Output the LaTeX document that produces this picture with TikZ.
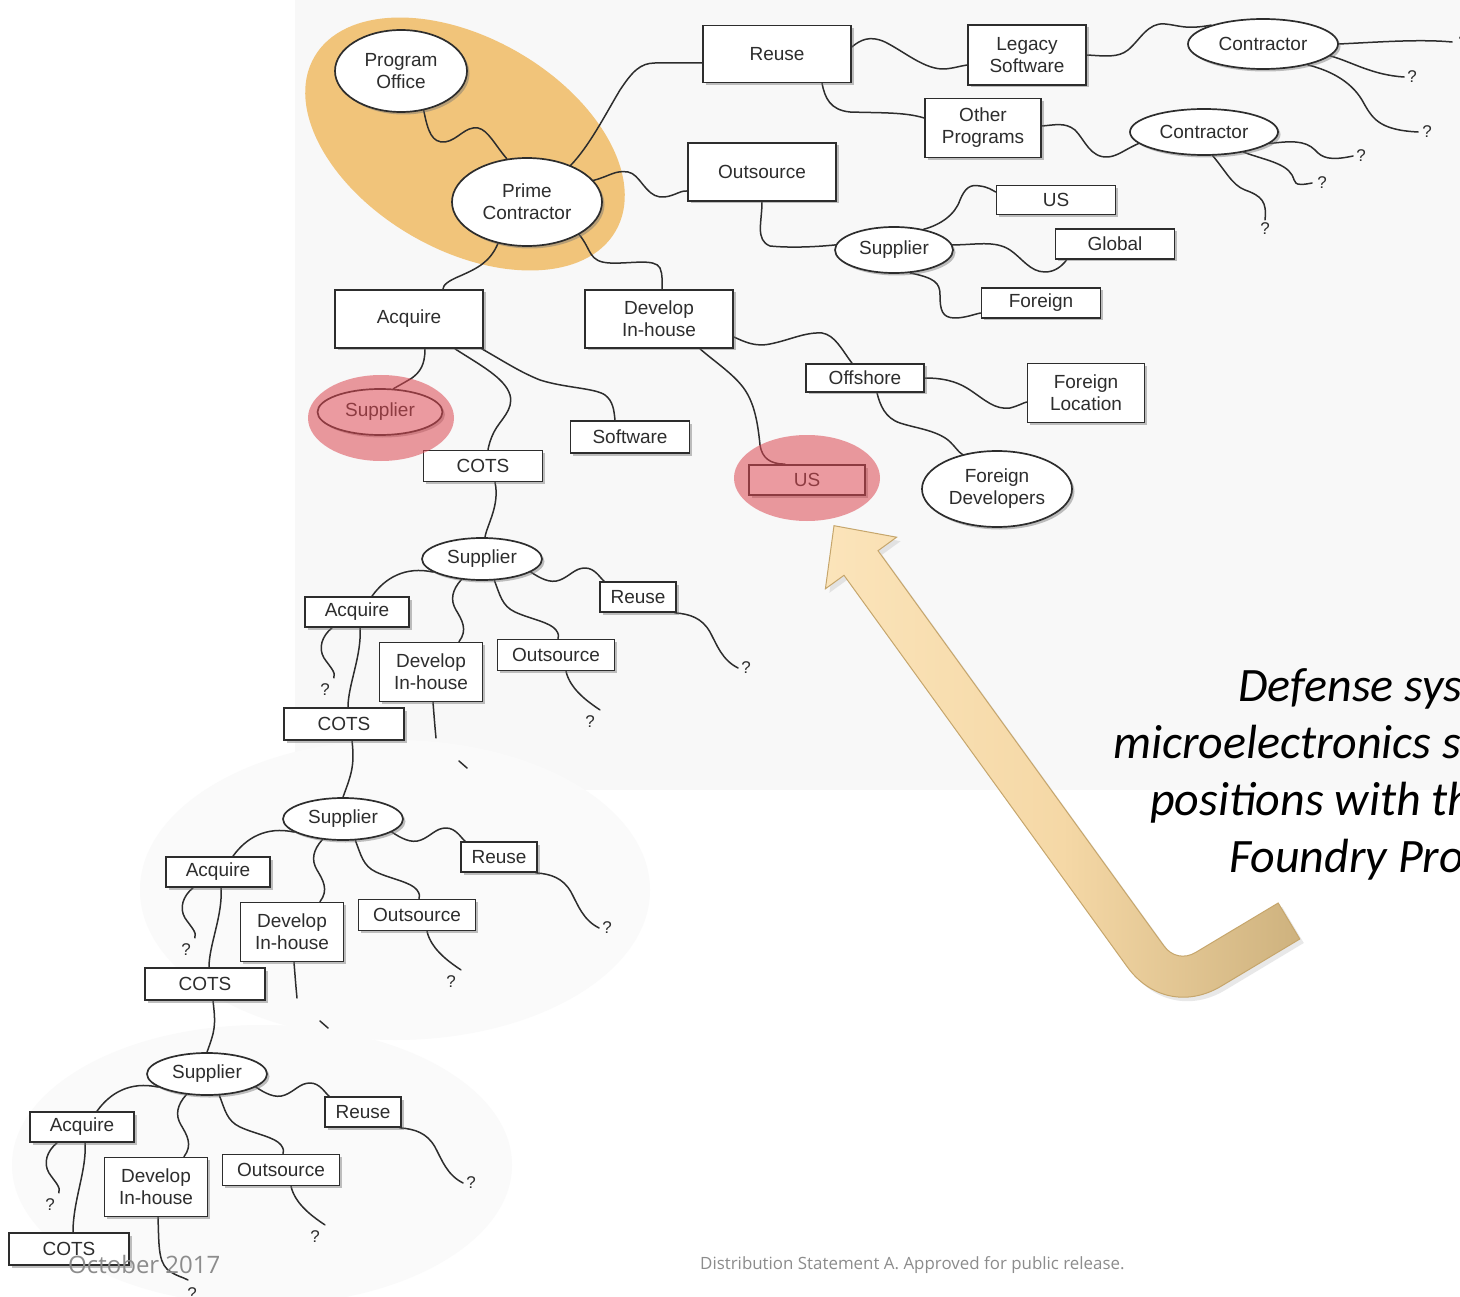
\documentclass[tikz,border=0pt]{standalone}
\usepackage{fontspec}
\usetikzlibrary{shapes.geometric,shadows}
\newfontfamily\diagfont{Liberation Sans}
\newfontfamily\notefont{Carlito}
\newfontfamily\footfont{Open Sans}

\definecolor{ink}{RGB}{45,45,45}
\definecolor{backdrop}{RGB}{248,248,248}
\definecolor{backdroplow}{RGB}{250,250,250}
\definecolor{hilite}{RGB}{241,196,122}
\definecolor{redmark}{RGB}{220,72,82}
\definecolor{arrowlight}{RGB}{251,228,186}
\definecolor{arrowmid}{RGB}{245,216,166}
\definecolor{arrowdark}{RGB}{206,178,126}
\definecolor{arrowedge}{RGB}{198,166,108}
\definecolor{footgray}{RGB}{140,140,140}

\pgfdeclarelayer{bg}\pgfdeclarelayer{hl}\pgfdeclarelayer{lines}\pgfdeclarelayer{front}
\pgfsetlayers{bg,hl,lines,main,front}

\tikzset{
  shadowed/.style={drop shadow={shadow xshift=2.5pt, shadow yshift=-2.5pt, fill=black!55, opacity=0.45}},
  box/.style={rectangle, draw=ink, line width=1.7pt, fill=white, inner sep=0pt,
    font=\diagfont\fontsize{19}{22}\selectfont, text=ink, align=center, shadowed},
  ell/.style={ellipse, draw=ink, line width=1.7pt, fill=white, inner sep=0pt,
    font=\diagfont\fontsize{19}{22}\selectfont, text=ink, align=center, shadowed},
  conn/.style={draw=ink, line width=1.5pt, line cap=round, line join=round},
  qm/.style={font=\diagfont\fontsize{17}{20}\selectfont, text=ink, inner sep=0pt},
  redspot/.style={ellipse, fill=redmark, fill opacity=0.55, draw=none, inner sep=0pt},
  note/.style={font=\notefont\itshape\fontsize{48}{57}\selectfont, text=black, inner sep=0pt, anchor=base west},
  foot/.style={text=footgray, inner sep=0pt, anchor=base west},
}

% One "Supplier" sub-tree: #1 name prefix, #2/#3 shift, #4 extra drop of the COTS box,
% #5 = 1 when the Develop branch is drawn in full
\newcommand{\suppliertree}[5]{%
\begin{scope}[shift={(#2,#3)}]
  \node[ell, minimum width=120, minimum height=42] (#1s) at (482,559) {Supplier};
  \node[box, minimum width=104, minimum height=30] (#1a) at (357,612) {Acquire};
  \node[box, minimum width=103, minimum height=59] (#1d) at (431,672) {Develop\\In-house};
  \node[box, minimum width=117, minimum height=31] (#1o) at (556,655) {Outsource};
  \node[box, minimum width=76, minimum height=30] (#1r) at (638,597) {Reuse};
  \node[box, minimum width=120, minimum height=32] (#1c) at (344,724+#4) {COTS};
  \node[qm] (#1qa) at (325,690) {?};
  \node[qm] (#1qo) at (590,722) {?};
  \node[qm] (#1qr) at (746,668) {?};
  \begin{pgfonlayer}{lines}
    \draw[conn] (#1s.195) .. controls (405,566) and (385,578) .. ([xshift=15pt]#1a.north);
    \draw[conn] (#1s.225) .. controls (452,590) and (450,600) .. (456,610)
                .. controls (462,620) and (468,630) .. ([xshift=28pt]#1d.north);
    \draw[conn] (#1s.300) .. controls (500,595) and (502,606) .. (515,612)
                .. controls (530,619) and (550,622) .. (556,630)
                .. controls (559,634) and (559,637) .. ([xshift=2pt]#1o.north);
    \draw[conn] (#1s.345) .. controls (540,578) and (550,584) .. (560,580)
                .. controls (570,576) and (575,568) .. (585,568)
                .. controls (595,568) and (600,578) .. ([xshift=5pt]#1r.north west);
    \draw[conn] ([xshift=-2pt]#1r.south east) .. controls (690,614) and (702,618) .. (710,632)
                .. controls (717,645) and (722,660) .. ([xshift=-3pt]#1qr.west);
    \draw[conn] ([xshift=-25pt]#1a.south) .. controls (322,636) and (318,648) .. (324,658)
                .. controls (330,667) and (336,672) .. ([xshift=4pt,yshift=6pt]#1qa.north east);
    \draw[conn] ([xshift=3pt]#1a.south) .. controls (362,655) and (348,685) .. ([xshift=4pt]#1c.north);
    \draw[conn] ([xshift=10pt]#1o.south) .. controls (570,688) and (585,700) .. ([xshift=5pt,yshift=6pt]#1qo.north east);
    \ifnum#5=1
      \draw[conn] ([xshift=2pt]#1d.south) .. controls (434,728) and (433,745) .. (442,754)
                  .. controls (450,761) and (458,762) .. (463,765);
    \else
      \draw[conn] ([xshift=2pt]#1d.south) .. controls (434,715) and (435,728) .. (436,738);
      \draw[conn] (459,761) -- (467,768);
    \fi
  \end{pgfonlayer}
  \ifnum#5=1
    \node[qm] (#1qd) at (467,779) {?};
  \fi
\end{scope}}

\begin{document}
\begin{tikzpicture}[x=1pt,y=-1pt]
\useasboundingbox (0,0) rectangle (1460,1297);
\clip (0,0) rectangle (1460,1297);

% paper and the faint grey panels behind the trees
\begin{pgfonlayer}{bg}
  \fill[white] (0,0) rectangle (1460,1297);
  \fill[backdrop] (295,0) rectangle (1460,790);
  \fill[backdroplow] (395,890) ellipse [x radius=255, y radius=150];
  \fill[backdroplow] (262,1165) ellipse [x radius=250, y radius=140];
\end{pgfonlayer}

% orange zone around the programme office
\begin{pgfonlayer}{hl}
  \node[ellipse, fill=hilite, draw=none, minimum width=348, minimum height=212, rotate=-30, inner sep=0pt] (zone) at (465,144) {};
\end{pgfonlayer}

% ---------- upper tree ----------
\node[ell, minimum width=132, minimum height=82] (po) at (401,71) {Program\\Office};
\node[ell, minimum width=150, minimum height=88] (pc) at (527,202) {Prime\\Contractor};
\node[box, minimum width=148, minimum height=57] (reuse) at (777,54) {Reuse};
\node[box, minimum width=118, minimum height=60] (legacy) at (1027,55) {Legacy\\Software};
\node[ell, minimum width=150, minimum height=50] (ctra) at (1263,44) {Contractor};
\node[box, minimum width=116, minimum height=59] (other) at (983,128) {Other\\Programs};
\node[ell, minimum width=148, minimum height=46] (ctrb) at (1204,132) {Contractor};
\node[box, minimum width=148, minimum height=58] (outs) at (762,172) {Outsource};
\node[ell, minimum width=118, minimum height=46] (supo) at (894,250) {Supplier};
\node[box, minimum width=119, minimum height=29] (usa) at (1056,200) {US};
\node[box, minimum width=119, minimum height=30] (global) at (1115,244) {Global};
\node[box, minimum width=119, minimum height=30] (foreign) at (1041,303) {Foreign};
\node[box, minimum width=148, minimum height=58] (acq) at (409,319) {Acquire};
\node[box, minimum width=148, minimum height=58] (dev) at (659,319) {Develop\\In-house};
\node[ell, minimum width=125, minimum height=46] (supa) at (380,412) {Supplier};
\node[box, minimum width=119, minimum height=31] (cots) at (483,466) {COTS};
\node[box, minimum width=119, minimum height=32] (soft) at (630,437) {Software};
\node[box, minimum width=116, minimum height=30] (usd) at (807,480) {US};
\node[box, minimum width=118, minimum height=28] (offs) at (865,378) {Offshore};
\node[box, minimum width=117, minimum height=59] (floc) at (1086,393) {Foreign\\Location};
\node[ell, minimum width=150, minimum height=76] (fdev) at (997,489) {Foreign\\Developers};

\node[qm] (qa1) at (1463,42) {?};
\node[qm] (qa2) at (1412,77) {?};
\node[qm] (qa3) at (1427,132) {?};
\node[qm] (qb1) at (1361,156) {?};
\node[qm] (qb2) at (1322,183) {?};
\node[qm] (qb3) at (1265,229) {?};

\begin{pgfonlayer}{lines}
  \draw[conn] (po.300) .. controls (428,132) and (432,143) .. (445,142)
              .. controls (458,140) and (465,126) .. (478,128)
              .. controls (488,130) and (495,145) .. (pc.115);
  \draw[conn] (pc.40) .. controls (590,145) and (605,115) .. (620,90)
              .. controls (632,72) and (640,63) .. (655,63) -- ([yshift=-9pt]reuse.west);
  \draw[conn] (pc.18) .. controls (610,176) and (615,170) .. (628,172)
              .. controls (640,174) and (645,195) .. (660,197)
              .. controls (672,198) and (680,190) .. ([yshift=-19pt]outs.west);
  \draw[conn] (pc.235) .. controls (490,262) and (478,268) .. (460,276)
              .. controls (448,281) and (443,285) .. ([xshift=34pt]acq.north);
  \draw[conn] (pc.328) .. controls (592,250) and (588,262) .. (610,263)
              .. controls (630,264) and (655,258) .. (660,268)
              .. controls (663,275) and (662,283) .. ([xshift=3pt]dev.north);
  \draw[conn] ([yshift=7pt]reuse.east) .. controls (860,40) and (870,35) .. (885,42)
              .. controls (905,52) and (925,70) .. (945,69)
              .. controls (955,68) and (960,66) .. ([yshift=-10pt]legacy.west);
  \draw[conn] (legacy.east) .. controls (1105,56) and (1118,58) .. (1128,50)
              .. controls (1140,40) and (1148,22) .. (1165,24)
              .. controls (1178,25) and (1185,30) .. (ctra.160);
  \draw[conn] (ctra.east) .. controls (1380,42) and (1420,39) .. ([xshift=-6pt]qa1.west);
  \draw[conn] (ctra.350) .. controls (1352,62) and (1372,75) .. ([xshift=-3pt]qa2.west);
  \draw[conn] (ctra.335) .. controls (1328,70) and (1350,80) .. (1362,100)
              .. controls (1372,118) and (1378,130) .. ([xshift=-4pt]qa3.west);
  \draw[conn] ([xshift=45pt]reuse.south) .. controls (825,98) and (830,110) .. (850,112)
              .. controls (880,113) and (905,112) .. ([yshift=10pt]other.west);
  \draw[conn] ([yshift=2pt]other.east) .. controls (1055,125) and (1065,122) .. (1075,130)
              .. controls (1085,140) and (1090,158) .. (1108,157)
              .. controls (1118,156) and (1124,150) .. (ctrb.190);
  \draw[conn] (ctrb.350) .. controls (1290,141) and (1305,140) .. (1315,150)
              .. controls (1322,158) and (1330,161) .. ([xshift=-3pt]qb1.west);
  \draw[conn] (ctrb.333) .. controls (1265,160) and (1285,163) .. (1292,175)
              .. controls (1296,182) and (1292,187) .. ([xshift=-5pt]qb2.west);
  \draw[conn] (ctrb.290) .. controls (1225,170) and (1232,185) .. (1245,190)
              .. controls (1262,196) and (1267,202) .. ([yshift=3pt]qb3.north);
  \draw[conn] (outs.south) .. controls (762,222) and (755,240) .. (770,246)
              .. controls (790,248) and (815,247) .. (supo.175);
  \draw[conn] (supo.35) .. controls (940,225) and (955,215) .. (960,200)
              .. controls (965,188) and (970,184) .. (980,186)
              .. controls (988,187) and (992,190) .. ([yshift=8pt]usa.west);
  \draw[conn] (supo.5) .. controls (975,245) and (995,240) .. (1010,250)
              .. controls (1022,258) and (1030,272) .. (1045,272)
              .. controls (1055,272) and (1062,266) .. ([xshift=12pt]global.south west);
  \draw[conn] (supo.305) .. controls (935,278) and (940,283) .. (940,295)
              .. controls (940,310) and (942,318) .. (955,318)
              .. controls (965,318) and (975,314) .. ([yshift=-10pt]foreign.west);
  \draw[conn] ([yshift=-18pt]dev.east) .. controls (745,342) and (755,347) .. (770,344)
              .. controls (790,340) and (805,332) .. (822,333)
              .. controls (835,335) and (842,350) .. ([xshift=-13pt]offs.north);
  \draw[conn] ([xshift=41pt]dev.south) .. controls (715,362) and (735,375) .. (745,390)
              .. controls (755,405) and (758,425) .. (760,445)
              .. controls (762,458) and (770,464) .. ([xshift=-22pt]usd.north);
  \draw[conn] (offs.east) .. controls (940,378) and (955,380) .. (970,390)
              .. controls (985,400) and (995,410) .. (1010,408)
              .. controls (1018,406) and (1023,403) .. ([yshift=-9pt]floc.west);
  \draw[conn] ([xshift=12pt]offs.south) .. controls (880,405) and (885,418) .. (900,423)
              .. controls (915,428) and (935,430) .. (948,440)
              .. controls (955,446) and (958,452) .. (fdev.135);
  \draw[conn] ([xshift=16pt]acq.south) .. controls (425,365) and (420,372) .. (412,378)
              .. controls (402,384) and (398,386) .. (supa.60);
  \draw[conn] ([xshift=46pt]acq.south) .. controls (480,365) and (505,378) .. (510,395)
              .. controls (514,410) and (500,420) .. (494,432)
              .. controls (490,440) and (489,445) .. ([xshift=5pt]cots.north);
  \draw[conn] ([xshift=-2pt]acq.south east) .. controls (505,362) and (520,372) .. (540,380)
              .. controls (565,388) and (595,388) .. (605,395)
              .. controls (613,401) and (614,410) .. ([xshift=-15pt]soft.north);
\end{pgfonlayer}

% ---------- repeated supplier trees ----------
\suppliertree{t2}{0}{0}{0}{0}
\suppliertree{t3}{-139}{260}{0}{0}
\suppliertree{t4}{-275}{515}{10}{1}

\begin{pgfonlayer}{lines}
  \draw[conn] ([xshift=12pt]cots.south) .. controls (500,505) and (487,525) .. ([xshift=3pt]t2s.north);
  \draw[conn] ([xshift=8pt]t2c.south) .. controls +(3,25) and +(8,-22) .. (t3s.north);
  \draw[conn] ([xshift=8pt]t3c.south) .. controls +(3,25) and +(8,-22) .. (t4s.north);
\end{pgfonlayer}

% ---------- red markers, arrow and captions ----------
\begin{pgfonlayer}{front}
  \node[redspot, minimum width=146, minimum height=86] (markA) at (381,418) {};
  \node[redspot, minimum width=146, minimum height=86] (markB) at (807,478) {};

  \path[draw=arrowedge, line width=1pt, left color=arrowlight, right color=arrowdark, middle color=arrowmid,
        drop shadow={shadow xshift=4pt, shadow yshift=-4pt, opacity=0.18}]
    (834,525.7) -- (896.6,537.2) -- (878,550.7) -- (1163.9,945.9)
    .. controls (1171.6,956.6) and (1184.4,959.2) .. (1195.7,952.4) -- (1278.2,903) -- (1299.8,939) -- (1221.1,986.2)
    .. controls (1187.7,1006.2) and (1150.2,998.5) .. (1127.3,966.9) -- (844,575.3) -- (825.4,588.8) -- cycle;

  \node[note] (line1) at (1238,701) {Defense sys};
  \node[note] (line2) at (1113,758) {microelectronics s};
  \node[note] (line3) at (1150,815) {positions with th};
  \node[note] (line4) at (1229,872) {Foundry Pro};

  \node[foot, font=\footfont\fontsize{24}{28}\selectfont] (date) at (68,1273) {October 2017};
  \node[foot, font=\footfont\fontsize{16.9}{20}\selectfont] (dist) at (700,1269) {Distribution Statement A. Approved for public release.};
\end{pgfonlayer}
\end{tikzpicture}
\end{document}
